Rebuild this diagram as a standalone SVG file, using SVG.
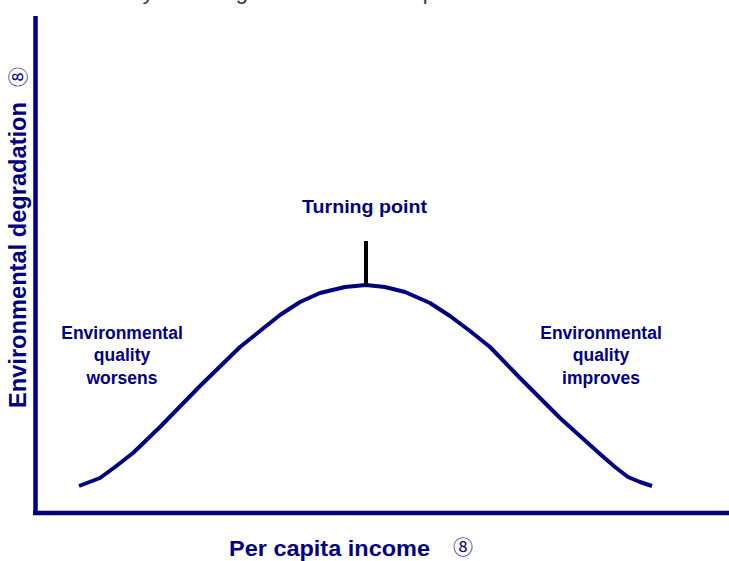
<svg xmlns="http://www.w3.org/2000/svg" width="729" height="561" viewBox="0 0 729 561">
<style>
.lbl{font-family:"Liberation Sans",Arial,sans-serif;font-weight:bold;fill:#000080}
.sym{font-family:"Noto Sans CJK JP","DejaVu Sans",sans-serif;fill:#000080}
.axis{stroke:#000080;stroke-width:4.5;fill:none}
</style>
<rect width="729" height="561" fill="#ffffff"/>
<text x="110" y="-1" font-family="Liberation Sans, Arial, sans-serif" font-size="22" fill="#333333" textLength="602" lengthAdjust="spacing">Key finding is that some pollutants are the norm</text>
<g id="axes">
<line class="axis" x1="35.5" y1="16" x2="35.5" y2="515"/>
<line class="axis" x1="33" y1="513" x2="729" y2="513"/>
</g>
<g id="connectors">
<polyline fill="none" stroke="#000080" stroke-width="4" stroke-linejoin="round" points="79,486 100,478 115,467 133,453 160,427 200,386 240,347 280,315 300,302 320,293 345,287 366,285 385,287 405,292 430,303 450,316 470,331 490,347 520,378 560,418 600,454 615,467 628,477 640,482 652,486"/>
<line x1="366" y1="241" x2="366" y2="285" stroke="#000000" stroke-width="4"/>
</g>
<g id="turning-point">
<text class="lbl" x="302" y="213" font-size="18.5" textLength="125" lengthAdjust="spacingAndGlyphs">Turning point</text>
</g>
<g id="worsens">
<text class="lbl" font-size="17.5" text-anchor="middle"><tspan x="122" y="339">Environmental</tspan><tspan x="122" y="361">quality</tspan><tspan x="122" y="384">worsens</tspan></text>
</g>
<g id="improves">
<text class="lbl" font-size="17.5" text-anchor="middle"><tspan x="601" y="339">Environmental</tspan><tspan x="601" y="361">quality</tspan><tspan x="601" y="384">improves</tspan></text>
</g>
<g id="y-label">
<text class="lbl" font-size="23" transform="translate(26,408) rotate(-90)" textLength="306" lengthAdjust="spacingAndGlyphs">Environmental degradation</text>
<text class="sym" font-size="20" transform="translate(26,87) rotate(-90)">⑧</text>
</g>
<g id="x-label">
<text class="lbl" font-size="22.5" x="229" y="556" textLength="201" lengthAdjust="spacingAndGlyphs">Per capita income</text>
<text class="sym" font-size="20" x="453" y="555">⑧</text>
</g>
</svg>
